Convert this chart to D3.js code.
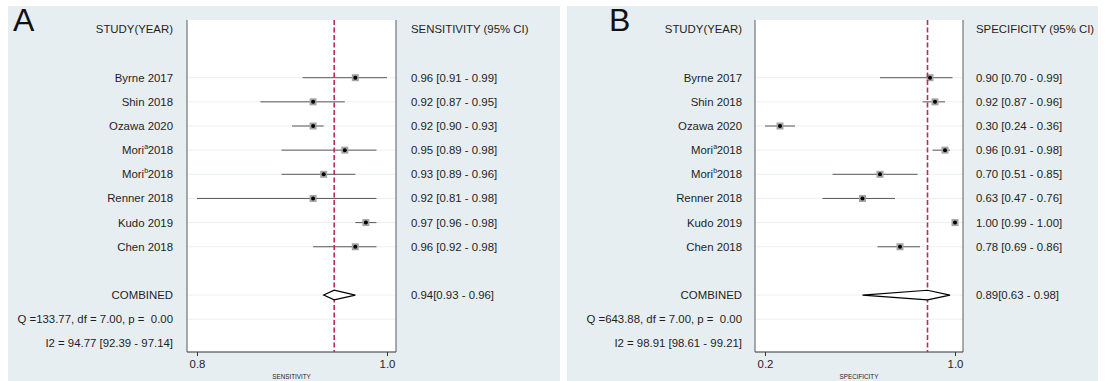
<!DOCTYPE html>
<html>
<head>
<meta charset="utf-8">
<script src="https://cdn.jsdelivr.net/npm/d3@7/dist/d3.min.js"></script>
<style>
  html, body { margin: 0; padding: 0; background: #ffffff; }
  svg { display: block; font-family: "Liberation Sans", Arial, Helvetica, sans-serif; }
  text { white-space: pre; }
</style>
</head>
<body>
<svg id="chart" width="1107" height="381"></svg>
<script>
// Study list (superscripts distinguish the two Mori cohorts)
const studies = ["Byrne 2017", "Shin 2018", "Ozawa 2020", "Mori 2018", "Mori 2018", "Renner 2018", "Kudo 2019", "Chen 2018"];
const studyNames = ["Byrne", "Shin", "Ozawa", "Mori", "Mori", "Renner", "Kudo", "Chen"];
const studyYears = ["2017", "2018", "2020", "2018", "2018", "2018", "2019", "2018"];
const studySup = ["", "", "", "a", "b", "", "", ""];

// Sensitivity per study with 95% CI
const sensitivity = [0.96, 0.92, 0.92, 0.95, 0.93, 0.92, 0.97, 0.96];
const sensLower   = [0.91, 0.87, 0.90, 0.89, 0.89, 0.81, 0.96, 0.92];
const sensUpper   = [0.99, 0.95, 0.93, 0.98, 0.96, 0.98, 0.98, 0.98];

// Specificity per study with 95% CI
const specificity = [0.90, 0.92, 0.30, 0.96, 0.70, 0.63, 1.00, 0.78];
const specLower   = [0.70, 0.87, 0.24, 0.91, 0.51, 0.47, 0.99, 0.69];
const specUpper   = [0.99, 0.96, 0.36, 0.98, 0.85, 0.76, 1.00, 0.86];

// Pooled estimates [estimate, lower, upper]
const pooledSens = [0.94, 0.93, 0.96];
const pooledSpec = [0.89, 0.63, 0.98];

// Heterogeneity statistics [Q, df, p] and [I2, lower, upper]
const heteroSens = [133.77, 7.00, 0.00];
const heteroSpec = [643.88, 7.00, 0.00];
const i2Sens = [94.77, 92.39, 97.14];
const i2Spec = [98.91, 98.61, 99.21];

const panelLetters = ["A", "B"];
const measureNames = ["SENSITIVITY", "SPECIFICITY"];

const panels = [
  { letter: panelLetters[0], name: measureNames[0], est: sensitivity, lo: sensLower, hi: sensUpper,
    pooled: pooledSens, q: heteroSens, i2: i2Sens,
    bg: [8, 560], letterX: 13, textRight: 173, frame: [187, 396], range: [197, 387], colX: 411 },
  { letter: panelLetters[1], name: measureNames[1], est: specificity, lo: specLower, hi: specUpper,
    pooled: pooledSpec, q: heteroSpec, i2: i2Spec,
    bg: [567, 1098], letterX: 609, textRight: 742, frame: [755, 963], range: [765, 955], colX: 976 }
];

const svg = d3.select("#chart");
const f2 = d3.format(".2f");
const rowY = i => 29.4 + 24.15 * i;   // row 0 = header, rows 2..9 = studies, 11 = pooled
const plotTop = 20, plotBottom = 352;
const textColor = "#1e1e1e";
const fontSize = 11.4;

panels.forEach(p => {
  const g = svg.append("g");

  // panel background
  g.append("rect").attr("x", p.bg[0]).attr("y", 6)
    .attr("width", p.bg[1] - p.bg[0]).attr("height", 381 - 6)
    .attr("fill", "#e7eef1");

  // plot region
  g.append("rect").attr("x", p.frame[0]).attr("y", plotTop)
    .attr("width", p.frame[1] - p.frame[0]).attr("height", plotBottom - plotTop)
    .attr("fill", "#ffffff");

  const x = d3.scaleLinear()
    .domain([d3.min(p.lo), d3.max(p.hi)])
    .range(p.range);

  // faint row rules
  const ruleRows = d3.range(2, 10).concat([11, 12]);
  g.selectAll(".rule").data(ruleRows).join("line")
    .attr("x1", p.frame[0]).attr("x2", p.frame[1])
    .attr("y1", d => rowY(d)).attr("y2", d => rowY(d))
    .attr("stroke", "#eceff1").attr("stroke-width", 1);

  // frame sides
  [p.frame[0], p.frame[1]].forEach(fx => {
    g.append("line").attr("x1", fx).attr("x2", fx)
      .attr("y1", plotTop).attr("y2", plotBottom)
      .attr("stroke", "#5a5a5a").attr("stroke-width", 1);
  });
  g.append("line").attr("x1", p.frame[0]).attr("x2", p.frame[1])
    .attr("y1", plotBottom).attr("y2", plotBottom)
    .attr("stroke", "#333").attr("stroke-width", 1);

  // axis with ticks at the data extremes
  const axis = d3.axisBottom(x)
    .tickValues(x.domain())
    .tickSize(4)
    .tickFormat(d3.format(".1f"));
  const ax = g.append("g").attr("transform", `translate(0,${plotBottom})`).call(axis);
  ax.select(".domain").remove();
  ax.selectAll(".tick line").attr("stroke", "#333");
  ax.selectAll(".tick text")
    .attr("y", 8).attr("dy", "0.71em")
    .attr("font-size", fontSize).attr("fill", textColor)
    .attr("font-family", "Liberation Sans, Arial, sans-serif");

  g.append("text")
    .attr("x", (p.frame[0] + p.frame[1]) / 2).attr("y", 379)
    .attr("text-anchor", "middle").attr("font-size", 6.3).attr("fill", textColor)
    .text(p.name);

  // CI whiskers
  g.selectAll(".ci").data(p.est).join("line")
    .attr("x1", (d, i) => x(p.lo[i])).attr("x2", (d, i) => x(p.hi[i]))
    .attr("y1", (d, i) => rowY(i + 2)).attr("y2", (d, i) => rowY(i + 2))
    .attr("stroke", "#595959").attr("stroke-width", 1);

  // point markers: grey square with a black dot
  g.selectAll(".box").data(p.est).join("rect")
    .attr("x", d => x(d) - 3.5).attr("y", (d, i) => rowY(i + 2) - 3.5)
    .attr("width", 7).attr("height", 7)
    .attr("fill", "#a3a3a3");
  g.selectAll(".dot").data(p.est).join("circle")
    .attr("cx", d => x(d)).attr("cy", (d, i) => rowY(i + 2))
    .attr("r", 2).attr("fill", "#000");

  // pooled estimate reference line
  g.append("line")
    .attr("x1", x(p.pooled[0])).attr("x2", x(p.pooled[0]))
    .attr("y1", plotTop).attr("y2", plotBottom)
    .attr("stroke", "#b52d58").attr("stroke-width", 1.6)
    .attr("stroke-dasharray", "5,2.5");

  // pooled diamond
  const cy = rowY(11);
  const dh = 4.8;
  g.append("path")
    .attr("d", `M${x(p.pooled[1])},${cy} L${x(p.pooled[0])},${cy - dh} L${x(p.pooled[2])},${cy} L${x(p.pooled[0])},${cy + dh} Z`)
    .attr("fill", "#ffffff").attr("stroke", "#000").attr("stroke-width", 1.2);

  // panel letter
  g.append("text").attr("x", p.letterX).attr("y", 31)
    .attr("font-size", 32).attr("fill", "#111").text(p.letter);

  // left column
  const left = g.append("g").attr("font-size", fontSize).attr("fill", textColor).attr("text-anchor", "end");
  left.append("text").attr("x", p.textRight).attr("y", rowY(0)).attr("dy", "0.35em").text("STUDY(YEAR)");
  studies.forEach((s, i) => {
    const t = left.append("text").attr("x", p.textRight).attr("y", rowY(i + 2)).attr("dy", "0.35em");
    if (studySup[i]) {
      t.append("tspan").text(studyNames[i]);
      t.append("tspan").attr("font-size", 7).attr("dx", 0.2).attr("dy", -5).text(studySup[i]);
      t.append("tspan").attr("dy", 5).attr("dx", -0.6).text(studyYears[i]);
    } else {
      t.text(s);
    }
  });
  left.append("text").attr("x", p.textRight).attr("y", rowY(11)).attr("dy", "0.35em").text("COMBINED");
  left.append("text").attr("x", p.textRight).attr("y", rowY(12)).attr("dy", "0.35em")
    .text(`Q =${f2(p.q[0])}, df = ${f2(p.q[1])}, p =  ${f2(p.q[2])}`);
  left.append("text").attr("x", p.textRight).attr("y", rowY(13)).attr("dy", "0.35em")
    .text(`I2 = ${f2(p.i2[0])} [${f2(p.i2[1])} - ${f2(p.i2[2])}]`);

  // right column
  const right = g.append("g").attr("font-size", fontSize).attr("fill", textColor);
  right.append("text").attr("x", p.colX).attr("y", rowY(0)).attr("dy", "0.35em").text(`${p.name} (95% CI)`);
  right.selectAll(".val").data(p.est).join("text")
    .attr("x", p.colX).attr("y", (d, i) => rowY(i + 2)).attr("dy", "0.35em")
    .text((d, i) => `${f2(d)} [${f2(p.lo[i])} - ${f2(p.hi[i])}]`);
  right.append("text").attr("x", p.colX).attr("y", rowY(11)).attr("dy", "0.35em")
    .text(`${f2(p.pooled[0])}[${f2(p.pooled[1])} - ${f2(p.pooled[2])}]`);
});
</script>
</body>
</html>
